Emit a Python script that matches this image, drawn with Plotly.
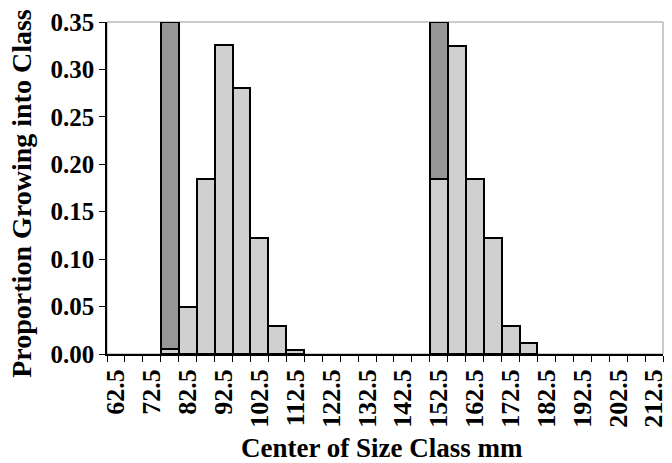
import plotly.graph_objects as go

# Size-class centres (mm), 5 mm classes
size_class = [62.5 + 5 * i for i in range(31)]

# Proportion growing into each class (light bars); None = empty class
proportion = [None, None, None, 0.005, 0.050, 0.185, 0.326, 0.280, 0.122, 0.030, 0.004,
              None, None, None, None, None, None, None, 0.185, 0.325, 0.185, 0.122, 0.030, 0.012,
              None, None, None, None, None, None, None]

# Starting class stacked on top (dark bars)
start_class = [None, None, None, 0.345, None, None, None, None, None, None, None,
               None, None, None, None, None, None, None, 0.165, None, None, None, None, None,
               None, None, None, None, None, None, None]

tick_labels = [62.5 + 10 * i for i in range(16)]
y_ticks = [0, 0.05, 0.10, 0.15, 0.20, 0.25, 0.30, 0.35]

FONT = "Liberation Serif"

fig = go.Figure()
fig.add_trace(go.Bar(
    x=size_class, y=proportion, width=5,
    marker=dict(color="#D0D0D0", line=dict(color="black", width=2.5)),
    showlegend=False,
))
fig.add_trace(go.Bar(
    x=size_class, y=start_class, width=5,
    marker=dict(color="#969696", line=dict(color="black", width=2.5)),
    showlegend=False,
))

fig.update_layout(
    width=672, height=463,
    margin=dict(l=107, r=4, t=22, b=109),
    barmode="stack", bargap=0,
    plot_bgcolor="white", paper_bgcolor="white",
    font=dict(family=FONT, color="black", size=25),
    shapes=[dict(type="rect", xref="paper", yref="paper", x0=0, y0=0, x1=1, y1=1,
                 line=dict(color="#999999", width=1), layer="below")],
    annotations=[
        dict(text="<b>Center of Size Class mm</b>", xref="paper", yref="paper",
             x=(384 - 107.3) / 560.4, y=(354 - 447.5) / 331.7,
             xanchor="center", yanchor="middle", showarrow=False,
             font=dict(family=FONT, size=27, color="black")),
        dict(text="<b>Proportion Growing into Class</b>", xref="paper", yref="paper",
             x=(21 - 107.3) / 560.4, y=1 - (193.5 - 22.3) / 331.7,
             xanchor="center", yanchor="middle", textangle=-90, showarrow=False,
             font=dict(family=FONT, size=28, color="black")),
    ],
)

fig.update_xaxes(
    range=[60, 215], showgrid=False, zeroline=False,
    showline=True, linecolor="black", linewidth=1.5,
    tickmode="array", tickvals=tick_labels,
    ticktext=[f"<b>{v:.1f}</b>" for v in tick_labels],
    tickangle=-90, ticks="", ticklabelstandoff=3,
    ticklabeloverflow="allow",
    tickfont=dict(family=FONT, size=26, color="black"),
    minor=dict(tick0=60, dtick=5, ticks="outside", ticklen=6,
               tickcolor="black", tickwidth=1),
)
fig.update_yaxes(
    range=[0, 0.35], showgrid=False, zeroline=False,
    showline=True, linecolor="black", linewidth=1.5,
    tickmode="array", tickvals=y_ticks,
    ticktext=[f"<b>{v:.2f}</b>" for v in y_ticks],
    ticks="outside", ticklen=6, tickcolor="black",
    tickfont=dict(family=FONT, size=25, color="black"),
)

fig.write_html("out.html")
